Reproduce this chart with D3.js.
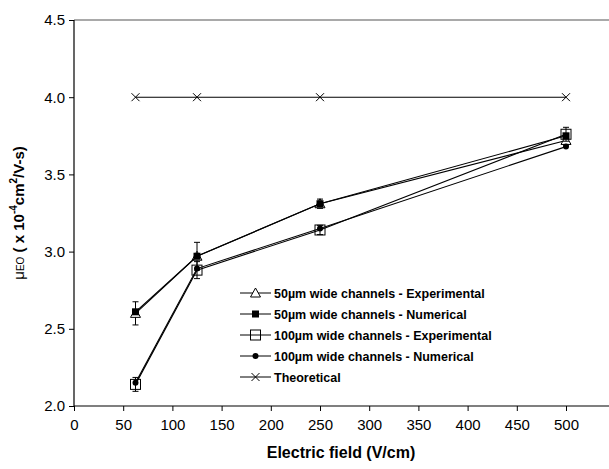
<!DOCTYPE html>
<html>
<head>
<meta charset="utf-8">
<script src="https://cdn.jsdelivr.net/npm/d3@7"></script>
<style>
  body { margin: 0; background: #fff; }
  text { font-family: "Liberation Sans", Arial, sans-serif; }
</style>
</head>
<body>
<svg id="chart" width="609" height="469"></svg>
<script>
// electric field values (V/cm)
var fields = [62.5, 125, 250, 500];

var exp50 = [2.60, 2.97, 3.31, 3.72];
var exp50Err = [0.075, 0.09, 0.03, 0.03];
var num50 = [2.61, 2.97, 3.31, 3.75];
var exp100 = [2.14, 2.88, 3.14, 3.76];
var exp100Err = [0.045, 0.055, 0.03, 0.045];
var num100 = [2.15, 2.89, 3.15, 3.68];
var theory = [4.0, 4.0, 4.0, 4.0];

var xTicks = [0, 50, 100, 150, 200, 250, 300, 350, 400, 450, 500];
var yTicks = [2.0, 2.5, 3.0, 3.5, 4.0, 4.5];

var legendNames = [
  "50\u00b5m wide channels - Experimental",
  "50\u00b5m wide channels - Numerical",
  "100\u00b5m wide channels - Experimental",
  "100\u00b5m wide channels - Numerical",
  "Theoretical"
];

var svg = d3.select("#chart");

var x = d3.scaleLinear().domain([0, 500]).range([74, 566]);
var y = d3.scaleLinear().domain([2.0, 4.5]).range([406, 20]);

// top border line
svg.append("line")
   .attr("x1", x(0)).attr("x2", 609)
   .attr("y1", y(4.5)).attr("y2", y(4.5))
   .attr("stroke", "#555").attr("stroke-width", 1.2);

// x axis
var xAxis = svg.append("g")
   .attr("transform", "translate(0," + y(2.0) + ")")
   .call(d3.axisBottom(x).tickValues(xTicks).tickSize(5).tickPadding(8).tickFormat(d3.format("d")));
xAxis.select(".domain").remove();
xAxis.append("line")
   .attr("x1", x(0)).attr("x2", 609)
   .attr("stroke", "#000").attr("stroke-width", 1.2);
xAxis.selectAll("text").attr("font-size", "15px").attr("fill", "#000")
   .style("font-family", "Liberation Sans, Arial, sans-serif");

// y axis
var yAxis = svg.append("g")
   .attr("transform", "translate(" + x(0) + ",0)")
   .call(d3.axisLeft(y).tickValues(yTicks).tickSize(5).tickPadding(4).tickFormat(d3.format(".1f")));
yAxis.select(".domain").attr("stroke-width", 1.2).attr("d", "M0," + y(4.5) + "V" + y(2.0));
yAxis.selectAll("text").attr("font-size", "15px").attr("fill", "#000")
   .style("font-family", "Liberation Sans, Arial, sans-serif");

// axis titles
svg.append("text")
   .attr("x", 341)
   .attr("y", 458)
   .attr("text-anchor", "middle")
   .attr("font-size", "16px")
   .attr("font-weight", "bold")
   .text("Electric field (V/cm)");

var yt = svg.append("text")
   .attr("transform", "translate(24," + (y(3.25)) + ") rotate(-90)")
   .attr("text-anchor", "middle")
   .attr("font-size", "15px")
   .attr("font-weight", "bold");
yt.append("tspan").attr("font-weight", "normal").text("\u03bc");
yt.append("tspan").attr("font-weight", "normal").attr("font-size", "10px").text("EO");
yt.append("tspan").text(" ( x 10");
yt.append("tspan").attr("font-size", "10px").attr("dy", "-7").text("-4");
yt.append("tspan").attr("dy", "7").text("cm");
yt.append("tspan").attr("font-size", "10px").attr("dy", "-7").text("2");
yt.append("tspan").attr("dy", "7").text("/V-s)");

// series definitions
var series = [
  { values: exp50, err: exp50Err, marker: "triangle" },
  { values: num50, err: null, marker: "fsquare" },
  { values: exp100, err: exp100Err, marker: "square" },
  { values: num100, err: null, marker: "circle" },
  { values: theory, err: null, marker: "cross" }
];

var line = d3.line()
   .x(function(d) { return x(d.f); })
   .y(function(d) { return y(d.v); });

function drawMarker(g, type, cx, cy) {
  if (type === "triangle") {
    g.append("path")
     .attr("d", "M" + cx + "," + (cy - 5) + "L" + (cx + 5) + "," + (cy + 4) + "L" + (cx - 5) + "," + (cy + 4) + "Z")
     .attr("fill", "#fff").attr("stroke", "#000").attr("stroke-width", 1);
  } else if (type === "fsquare") {
    g.append("rect").attr("x", cx - 3.5).attr("y", cy - 3.5).attr("width", 7).attr("height", 7)
     .attr("fill", "#000");
  } else if (type === "square") {
    g.append("rect").attr("x", cx - 5).attr("y", cy - 5).attr("width", 10).attr("height", 10)
     .attr("fill", "none").attr("stroke", "#000").attr("stroke-width", 1);
  } else if (type === "circle") {
    g.append("circle").attr("cx", cx).attr("cy", cy).attr("r", 3).attr("fill", "#000");
  } else if (type === "cross") {
    g.append("path")
     .attr("d", "M" + (cx - 4) + "," + (cy - 4) + "L" + (cx + 4) + "," + (cy + 4) +
                "M" + (cx - 4) + "," + (cy + 4) + "L" + (cx + 4) + "," + (cy - 4))
     .attr("stroke", "#000").attr("stroke-width", 1).attr("fill", "none");
  }
}

var plot = svg.append("g");

series.forEach(function(s) {
  var pts = fields.map(function(f, i) { return { f: f, v: s.values[i], e: s.err ? s.err[i] : 0 }; });
  plot.append("path").datum(pts)
      .attr("d", line)
      .attr("fill", "none")
      .attr("stroke", "#000")
      .attr("stroke-width", 1.1);
  if (s.err) {
    pts.forEach(function(p) {
      var cx = x(p.f);
      plot.append("path")
          .attr("d", "M" + cx + "," + y(p.v - p.e) + "V" + y(p.v + p.e) +
                     "M" + (cx - 3) + "," + y(p.v - p.e) + "H" + (cx + 3) +
                     "M" + (cx - 3) + "," + y(p.v + p.e) + "H" + (cx + 3))
          .attr("stroke", "#000").attr("stroke-width", 1).attr("fill", "none");
    });
  }
  pts.forEach(function(p) { drawMarker(plot, s.marker, x(p.f), y(p.v)); });
});

// legend
var legend = svg.append("g");
legendNames.forEach(function(name, i) {
  var ly = 293 + i * 21;
  var lx = 240;
  legend.append("line").attr("x1", lx).attr("x2", lx + 31).attr("y1", ly).attr("y2", ly)
        .attr("stroke", "#000").attr("stroke-width", 1);
  drawMarker(legend, series[i].marker, lx + 15.5, ly);
  legend.append("text")
        .attr("x", lx + 34).attr("y", ly + 4.5)
        .attr("font-size", "12.5px").attr("font-weight", "bold")
        .text(name);
});
</script>
</body>
</html>
